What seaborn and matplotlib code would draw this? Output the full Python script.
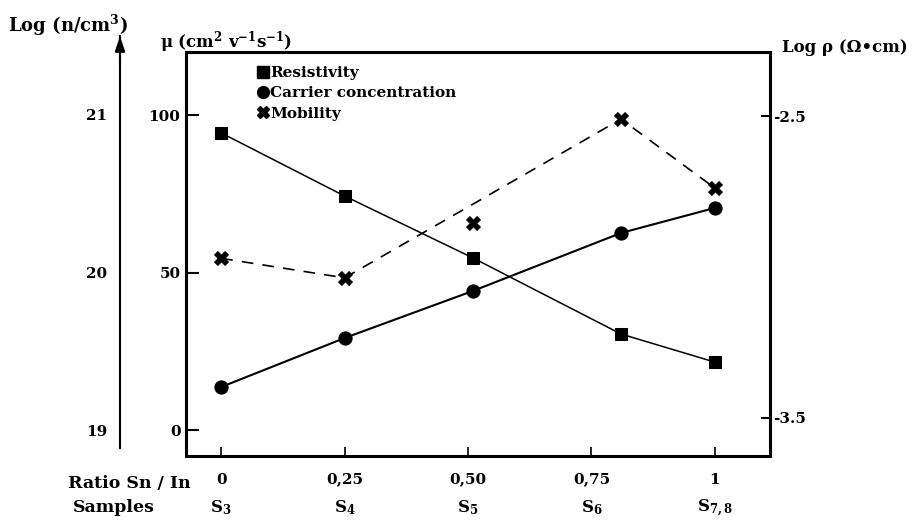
import matplotlib
matplotlib.use("Agg")
import matplotlib.pyplot as plt
import seaborn as sns
import pandas as pd
from matplotlib.lines import Line2D

# ---- data ----
ratio = [0.0, 0.25, 0.51, 0.81, 1.0]
samples = ["S$_3$", "S$_4$", "S$_5$", "S$_6$", "S$_{7,8}$"]
ratio_ticks = [0.0, 0.25, 0.5, 0.75, 1.0]
ratio_labels = ["0", "0,25", "0,50", "0,75", "1"]
log_rho = [-2.556, -2.765, -2.970, -3.222, -3.315]     # Log rho (Ohm cm)
log_n = [19.273, 19.584, 19.883, 20.251, 20.41]        # Log (n/cm3)
mobility = [54.5, 48.3, 65.7, 98.7, 76.8]              # cm2 V-1 s-1
mobility_on_line = [True, True, False, True, True]
mu_ticks = [0, 50, 100]
n_ticks = [19, 20, 21]
rho_ticks = [-2.5, -3.5]
rho_tick_labels = ["-2.5", "-3.5"]

sns.set_style("white")
plt.rcParams["font.family"] = ["DejaVu Serif", "DejaVu Sans"]
plt.rcParams["font.weight"] = "bold"
plt.rcParams["mathtext.fontset"] = "dejavuserif"
plt.rcParams["mathtext.default"] = "bf"
for key in ("text.color", "axes.labelcolor", "xtick.color", "ytick.color",
            "axes.edgecolor", "legend.labelcolor"):
    plt.rcParams[key] = "black"

W, H = 919, 522
fig = plt.figure(figsize=(W / 100, H / 100), dpi=100)
fig.patch.set_facecolor("white")

def fx(px):
    return px / W

def fy(py):
    return 1 - py / H

L, R, T, B = 186, 770, 52, 456
ax = fig.add_axes([fx(L), fy(B), fx(R - L), (B - T) / H])
ax.set_facecolor("none")

ax.set_xlim(-0.0713, 1.1118)
mu_lo, mu_hi = -8.25, 120.0
ax.set_ylim(mu_lo, mu_hi)

ax_rho = ax.twinx()
ax_rho.set_ylim(-3.626, -2.288)
ax_c = ax.twinx()
ax_c.set_ylim(19 + mu_lo / 50, 19 + mu_hi / 50)

df = pd.DataFrame({"ratio": ratio, "log_rho": log_rho, "log_n": log_n,
                   "mobility": mobility, "on_line": mobility_on_line})

# resistivity
sns.lineplot(data=df, x="ratio", y="log_rho", ax=ax_rho, color="black",
             lw=1.1, marker="s", markersize=8.5, markeredgecolor="black",
             markerfacecolor="black")
# carrier concentration
sns.lineplot(data=df, x="ratio", y="log_n", ax=ax_c, color="black",
             lw=1.5, marker="o", markersize=9.5, markeredgecolor="black",
             markerfacecolor="black")
# mobility: dashed line skipping S5, markers at all samples
sns.lineplot(data=df[df["on_line"]], x="ratio", y="mobility", ax=ax,
             color="black", lw=1.2, linestyle=(0, (7, 5.5)))
sns.scatterplot(data=df, x="ratio", y="mobility", ax=ax, color="black",
                marker="X", s=110, edgecolor="black", linewidth=0.3, zorder=5)

for a in (ax, ax_rho, ax_c):
    a.set_xlabel("")
    a.set_ylabel("")

for side in ("left", "right", "top", "bottom"):
    ax.spines[side].set_visible(True)
    ax.spines[side].set_linewidth(2.2)
    ax.spines[side].set_color("black")
for a in (ax_rho, ax_c):
    for s in a.spines.values():
        s.set_visible(False)
ax_c.set_yticks([])

tick_font = dict(family=["DejaVu Serif", "DejaVu Sans"], size=11, weight="bold",
                 color="black")
ax.set_yticks(mu_ticks)
ax.set_yticklabels([str(t) for t in mu_ticks], fontdict=tick_font)
ax.tick_params(axis="y", direction="in", length=9, width=1.5, pad=4,
               left=True, right=False, colors="black")
ax.set_xticks(ratio_ticks)
ax.set_xticklabels(ratio_labels, fontdict=tick_font)
ax.tick_params(axis="x", direction="in", length=6.5, width=1.2, pad=12,
               bottom=True, top=False, colors="black")

ax_rho.set_yticks(rho_ticks)
ax_rho.set_yticklabels(rho_tick_labels, fontdict=tick_font)
ax_rho.tick_params(axis="y", direction="in", length=6.5, width=1.5, pad=2,
                   right=True, left=False, colors="black")

# samples row
sec = ax.secondary_xaxis(-0.098)
sec.set_xticks(ratio_ticks)
sec.set_xticklabels(samples, fontdict=dict(family=["DejaVu Serif", "DejaVu Sans"],
                                           size=12, weight="bold", color="black"))
sec.tick_params(length=0, pad=2, colors="black")
sec.spines["bottom"].set_visible(False)

# separate Log n axis with arrow
n_bot, n_top = 448, 36
ax_n = fig.add_axes([fx(120), fy(n_bot), 0.02, (n_bot - n_top) / H])
ax_n.set_facecolor("none")
ax_n.set_ylim(19 - (n_bot - 430) / 157.5, 21 + (115 - n_top) / 157.5)
for side in ("right", "top", "bottom"):
    ax_n.spines[side].set_visible(False)
ax_n.spines["left"].set_linewidth(1.5)
ax_n.spines["left"].set_color("black")
ax_n.set_xticks([])
ax_n.set_yticks(n_ticks)
ax_n.set_yticklabels([str(t) for t in n_ticks], fontdict=tick_font)
ax_n.tick_params(axis="y", direction="in", length=6.5, width=1.5, pad=9,
                 colors="black")
ax_n.annotate("", xy=(0, 1.0), xytext=(0, 0.94), xycoords="axes fraction",
              arrowprops=dict(arrowstyle="-|>,head_length=0.9,head_width=0.3",
                              lw=1.5, color="black", shrinkA=0, shrinkB=0))

# legend
handles = [
    Line2D([], [], color="black", marker="s", linestyle="none", markersize=8),
    Line2D([], [], color="black", marker="o", linestyle="none", markersize=8.5),
    Line2D([], [], color="black", marker="X", linestyle="none", markersize=9),
]
leg = ax.legend(handles, ["Resistivity", "Carrier concentration", "Mobility"],
                loc="upper left", bbox_to_anchor=((258 - L) / (R - L), (B - 66) / (B - T)),
                frameon=False, handlelength=0.6, handletextpad=0.2,
                labelspacing=0.42, borderaxespad=0, borderpad=0,
                labelcolor="black",
                prop=dict(family="DejaVu Serif", weight="bold", size=11))

# axis titles
lab = dict(family=["DejaVu Serif", "DejaVu Sans"], color="black", weight="bold")
fig.text(fx(8), fy(25), "Log (n/cm$^3$)", ha="left", va="center", size=13, **lab)
fig.text(fx(160), fy(42), "\u03bc (cm$^2$ v$^{-1}$s$^{-1}$)", ha="left", va="center",
         size=12, **lab)
fig.text(fx(782), fy(47), "Log \u03c1 (\u03a9\u2022cm)", ha="left", va="center",
         size=12, **lab)
fig.text(fx(68), fy(484), "Ratio Sn / In", ha="left", va="center", size=12.5, **lab)
fig.text(fx(73), fy(508), "Samples", ha="left", va="center", size=12.5, **lab)

fig.savefig("out.png", dpi=100, facecolor="white")
